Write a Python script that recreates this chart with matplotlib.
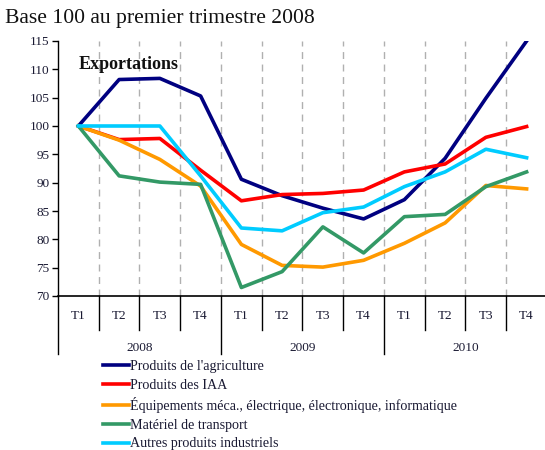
import matplotlib
matplotlib.use("Agg")
import matplotlib.pyplot as plt
from matplotlib.transforms import blended_transform_factory

quarters = ["T1", "T2", "T3", "T4"] * 3
years = ["2008", "2009", "2010"]
series_names = [
    "Produits de l'agriculture",
    "Produits des IAA",
    "Équipements méca., électrique, électronique, informatique",
    "Matériel de transport",
    "Autres produits industriels",
]
agriculture = [100, 108.2, 108.4, 105.3, 90.6, 87.7, 85.5, 83.6, 87.0, 94.3, 104.9, 115.0]
iaa = [100, 97.6, 97.8, 92.2, 86.8, 87.9, 88.1, 88.7, 91.9, 93.3, 98.0, 99.9]
equipements = [100, 97.5, 94.1, 89.4, 79.1, 75.4, 75.1, 76.3, 79.3, 82.9, 89.5, 88.9]
transport = [100, 91.2, 90.1, 89.7, 71.5, 74.3, 82.2, 77.6, 84.0, 84.4, 89.3, 91.9]
autres = [100, 100, 100, 91.2, 82.0, 81.5, 84.7, 85.7, 89.3, 91.9, 95.9, 94.4]
colors = ["#000080", "#FF0000", "#FF9900", "#339966", "#00CCFF"]
yticks = [70, 75, 80, 85, 90, 95, 100, 105, 110, 115]

plt.rcParams['font.family'] = ['Liberation Serif', 'DejaVu Serif']

fig = plt.figure(figsize=(5.45, 4.5), dpi=100)
W, H = 545, 450
ax = fig.add_axes([58 / W, 1 - 296 / H, (547 - 58) / W, 255 / H])

x = [i + 0.5 for i in range(len(quarters))]
data = [agriculture, iaa, equipements, transport, autres]
lines = []
for vals, col, name in zip(data, colors, series_names):
    ln, = ax.plot(x, vals, color=col, lw=2.6, label=name, solid_joinstyle='round', zorder=3)
    lines.append(ln)

for b in range(1, len(quarters)):
    ax.axvline(b, color='#b0b0b0', lw=1, ls=(0, (5, 4)), zorder=1)

ax.set_xlim(0, len(quarters))
ax.set_ylim(70, 115)
ax.set_yticks(yticks)
ax.set_yticklabels([str(v) for v in yticks], fontsize=9.5, color='#1a1a33')
ax.tick_params(axis='y', direction='out', length=4, width=1, pad=2)
ax.set_xticks([])
for s in ['top', 'right']:
    ax.spines[s].set_visible(False)
ax.spines['left'].set_linewidth(1)
ax.spines['bottom'].set_linewidth(1.2)

trans = blended_transform_factory(ax.transData, ax.transAxes)
for i, q in enumerate(quarters):
    ax.text(i + 0.5, -0.078, q, transform=trans, ha='center', va='center', fontsize=9.5, color='#1a1a33')
for b in range(0, len(quarters) + 1):
    bottom = -0.227 if b % 4 == 0 else -0.133
    ax.plot([b, b], [0, bottom], transform=trans, color='black', lw=1, clip_on=False)
for j, yr in enumerate(years):
    ax.text(j * 4 + 2, -0.205, yr, transform=trans, ha='center', va='center', fontsize=9.5, color='#1a1a33')

ax.text(0.5, 110.9, "Exportations", fontsize=13, fontweight='bold', ha='left', va='center', color='#111111')

fig.text(5 / W, 1 - 18 / H, "Base 100 au premier trimestre 2008", fontsize=15.6, ha='left', va='center', color='#111111')

leg = fig.legend(handles=lines, loc='upper left', bbox_to_anchor=(103 / W, 1 - 360 / H),
                 frameon=False, fontsize=10.1, handlelength=1.85, handletextpad=0.1,
                 labelspacing=0.4, borderpad=0, borderaxespad=0)
for t in leg.get_texts():
    t.set_color('#1a1a33')

fig.savefig("out.png", dpi=100)
